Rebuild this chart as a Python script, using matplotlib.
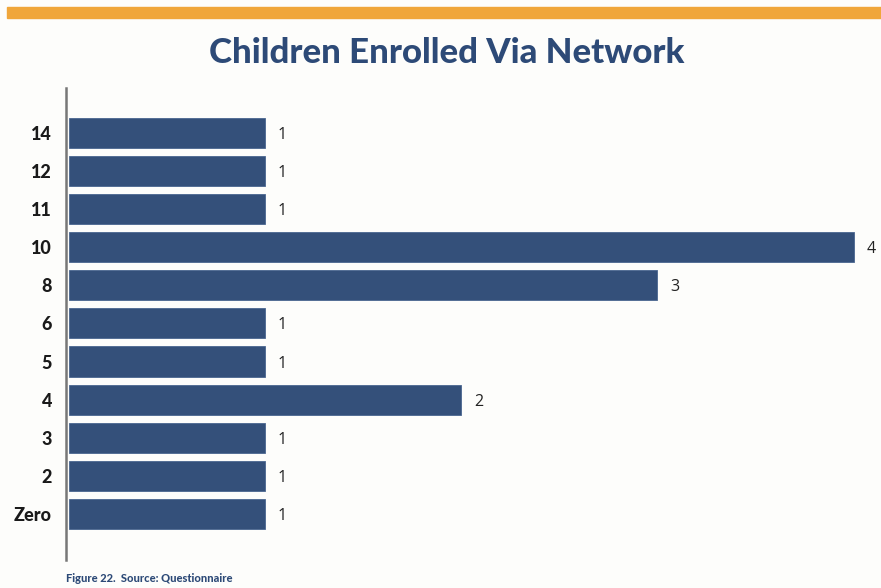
import matplotlib
matplotlib.use("Agg")
import matplotlib.pyplot as plt
from matplotlib.patches import Rectangle

# Number of children enrolled via the network, and how many respondents gave each answer
categories = ["Zero", "2", "3", "4", "5", "6", "8", "10", "11", "12", "14"]
counts = [1, 1, 1, 2, 1, 1, 3, 4, 1, 1, 1]

title = "Children Enrolled Via Network"
caption = "Figure 22.  Source: Questionnaire"

navy = "#34507a"
title_blue = "#2d4a77"
orange = "#f0a63a"
bg = "#fdfdfb"

W, H = 881, 588
fig = plt.figure(figsize=(W / 100, H / 100), dpi=100, facecolor=bg)

# Orange rule across the top
fig.patches.append(Rectangle((7 / W, 1 - 18 / H), 1 - 7 / W, 11 / H,
                             transform=fig.transFigure, color=orange, zorder=0))

fig.text(447 / W, 1 - 53 / H, title, ha="center", va="center",
         fontsize=25, fontweight="black", color=title_blue, family="Lato")

ax = fig.add_axes([66 / W, 1 - 560 / H, 1 - 66 / W, (560 - 88) / H])
ax.set_facecolor(bg)
ypos = list(range(len(categories)))
ax.barh(ypos, counts, height=0.79, color=navy, edgecolor="#4a6690", linewidth=0.6)
for y, v in zip(ypos, counts):
    ax.text(v + 0.065, y, str(v), va="center_baseline", ha="left", fontsize=11.5,
            color="#222222", family="Open Sans", clip_on=False)

ax.set_xlim(-0.015, 4.14)
ax.set_ylim(-1.21, 11.18)
ax.set_yticks(ypos)
ax.set_yticklabels(categories, fontsize=13, fontweight="black", family="Lato", color="#1a1a1a")
ax.tick_params(axis="y", length=0, pad=10)
ax.set_xticks([])
for s in ["top", "right", "bottom"]:
    ax.spines[s].set_visible(False)
ax.spines["left"].set_color("#777777")
ax.spines["left"].set_linewidth(1.8)

fig.text(66 / W, 1 - 578 / H, caption, ha="left", va="center",
         fontsize=8, fontweight="black", color=title_blue, family="Lato")

fig.savefig("out.png", dpi=100, facecolor=bg)
